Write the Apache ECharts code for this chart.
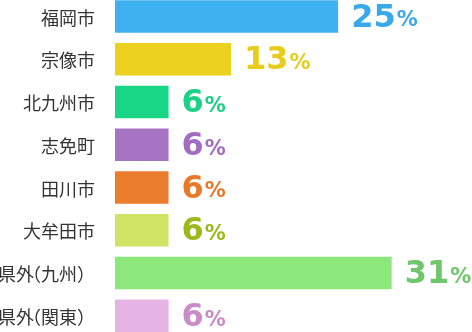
<!DOCTYPE html>
<html><head><meta charset="utf-8">
<script src="https://cdn.jsdelivr.net/npm/echarts@6/dist/echarts.min.js"></script>
<style>html,body{margin:0;padding:0;background:#fff}#c{width:472px;height:332px}</style>
</head><body><div id="c"></div>
<script>
const categories = ['福岡市', '宗像市', '北九州市', '志免町', '田川市', '大牟田市', '県外（九州）', '県外（関東）'];
const values = [25, 13, 6, 6, 6, 6, 31, 6];
const barColors = ['#3fb0f0', '#ecd21e', '#19d586', '#a774c3', '#ea7d2e', '#d2e466', '#8de87c', '#e6b4e4'];
const labelColors = ['#3aa9ea', '#e8cc1c', '#1cd085', '#a26dc0', '#e8792a', '#9cb81a', '#6fc66b', '#c98cc8'];

const chart = echarts.init(document.getElementById('c'), null, {renderer: 'canvas'});

const valueRich = {};
labelColors.forEach((c, i) => {
  valueRich['n' + i] = {fontFamily: 'DejaVu Sans', fontWeight: 'bold', fontSize: 32, lineHeight: 36, color: c, verticalAlign: 'bottom'};
  valueRich['p' + i] = {fontFamily: 'DejaVu Sans', fontWeight: 'bold', fontSize: 21, lineHeight: 21, color: c, verticalAlign: 'bottom', padding: [0, 0, 3, 1]};
});

const catStyle = {fontFamily: 'Noto Sans CJK JP', fontSize: 18, color: '#333'};

chart.setOption({
  animation: false,
  grid: {left: 115, right: 0, top: -5, bottom: -5, containLabel: false, outerBoundsMode: 'none'},
  xAxis: {type: 'value', min: 0, max: 40, show: false},
  yAxis: {
    type: 'category', data: categories, inverse: true,
    axisLine: {show: false}, axisTick: {show: false}, splitLine: {show: false},
    axisLabel: {
      margin: 20, fontFamily: 'Noto Sans CJK JP', fontSize: 18, color: '#333', padding: [3, 0, 0, 0],
      formatter: function (v) {
        const k = v.indexOf('（');
        if (k < 0) return v;
        return '{a|' + v.slice(0, k) + '}{b|（}{c|' + v.slice(k + 1) + '}';
      },
      rich: {
        a: Object.assign({}, catStyle),
        b: Object.assign({width: 7, align: 'right'}, catStyle),
        c: Object.assign({align: 'right'}, catStyle)
      }
    }
  },
  series: [{
    type: 'bar',
    barWidth: 32.5,
    data: values.map((v, i) => ({value: v, itemStyle: {color: barColors[i]}})),
    label: {
      show: true, position: 'right', distance: 13,
      formatter: p => '{n' + p.dataIndex + '|' + p.value + '}{p' + p.dataIndex + '|%}',
      rich: valueRich
    }
  }]
});
</script>
</body></html>
